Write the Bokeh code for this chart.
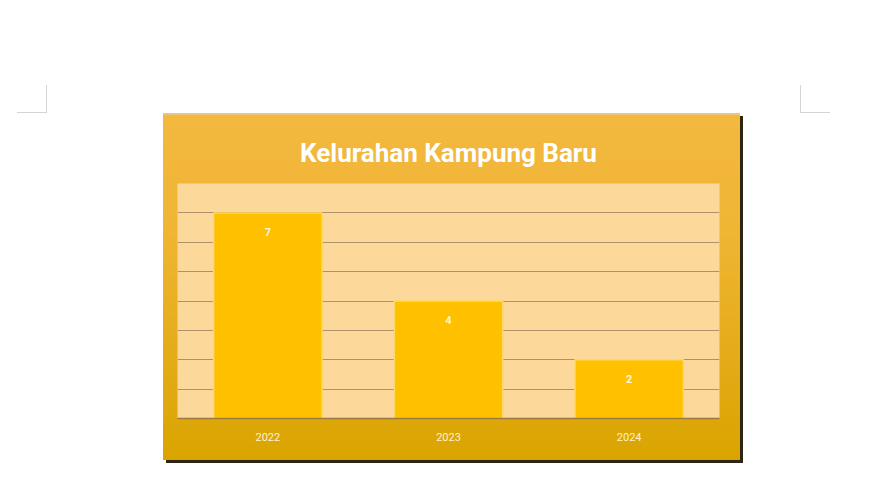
from bokeh.plotting import figure
from bokeh.models import ColumnDataSource, Range1d, FixedTicker, InlineStyleSheet
from bokeh.core.properties import value
from bokeh.embed import file_html
from bokeh.resources import INLINE

# ---- data ----
title_text = "Kelurahan Kampung Baru"
years = ["2022", "2023", "2024"]
counts = [7, 4, 2]
count_labels = ["7", "4", "2"]

p = figure(x_range=years, y_range=Range1d(0, 8), width=577, height=347,
           output_backend="svg", toolbar_location=None,
           min_border_left=14, min_border_right=21,
           min_border_top=70, min_border_bottom=42,
           title=title_text)
p.margin = (113, 0, 0, 163)
p.x_range.range_padding = 0
p.border_fill_alpha = 0
p.background_fill_color = "#fdd89b"
p.outline_line_color = None
p.styles = {
    "background": "linear-gradient(180deg, #f3b840 0%, #efb533 35%, #daa400 100%)",
    "box-shadow": "3px 3px 0 #2e2412, inset 0 2px 0 #ecc77a",
}
p.stylesheets = [InlineStyleSheet(css="""
:host { position: relative; overflow: visible; }
:host::before, :host::after {
  content: ""; position: absolute; top: -28px; width: 30px; height: 28px;
  box-sizing: border-box; border-bottom: 1px solid #d4d4d4; pointer-events: none;
}
:host::before { left: -146px; border-right: 1px solid #d4d4d4; }
:host::after { left: 637px; border-left: 1px solid #d4d4d4; }
""")]

p.title.align = "center"
p.title.text_color = "white"
p.title.text_font = "Roboto"
p.title.text_font_size = "26px"
p.title.text_font_style = "bold"
p.title.offset = 4
p.title.standoff = 32

p.ygrid.ticker = FixedTicker(ticks=[0, 1, 2, 3, 4, 5, 6, 7])
p.ygrid.grid_line_color = "#b0926a"
p.ygrid.grid_line_width = 1
p.xgrid.grid_line_color = None

src = ColumnDataSource(dict(x=years, y=counts, lab=count_labels))
p.vbar(x="x", top="y", width=0.6, source=src, fill_color="#ffc000",
       line_color="#ffd966", line_width=1.5)
p.text(x="x", y="y", text="lab", source=src, text_align="center",
       text_baseline="middle", y_offset=19, text_color="#fff6dc",
       text_font=value("Roboto"), text_font_size="11px", text_font_style="bold")

p.yaxis.visible = False
ax = p.xaxis[0]
ax.axis_line_color = "#9a7a40"
ax.axis_line_width = 1.5
ax.major_tick_line_color = None
ax.minor_tick_line_color = None
ax.major_label_standoff = 8
ax.major_label_text_color = "#fff2cc"
ax.major_label_text_font = "Roboto"
ax.major_label_text_font_size = "11px"

open("out.html", "w").write(file_html(p, INLINE))
